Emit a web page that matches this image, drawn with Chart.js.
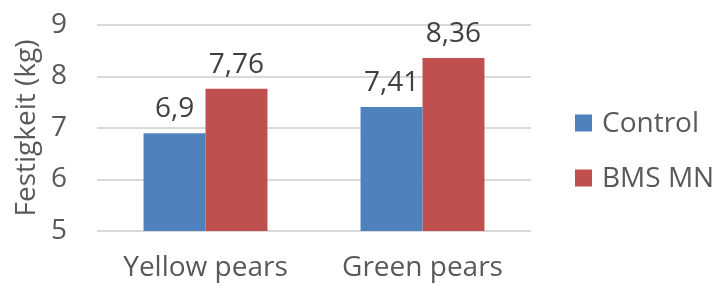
<!DOCTYPE html>
<html>
<head>
<meta charset="utf-8">
<script src="https://cdn.jsdelivr.net/npm/chart.js@4"></script>
<style>
  html, body { margin: 0; padding: 0; background: #fff; }
  #wrap { width: 714px; height: 288px; }
</style>
</head>
<body>
<div id="wrap"><canvas id="myChart" width="714" height="288"></canvas></div>
<script>
// data
const categories = ['Yellow pears', 'Green pears'];
const controlValues = [6.9, 7.41];
const bmsValues = [7.76, 8.36];
const yTicks = [5, 6, 7, 8, 9];

const FONT = '"Open Sans", sans-serif';

// value labels above bars (decimal comma)
const valueLabels = {
  id: 'valueLabels',
  afterDatasetsDraw(chart) {
    const ctx = chart.ctx;
    ctx.save();
    ctx.font = '28px ' + FONT;
    ctx.fillStyle = '#404040';
    ctx.textAlign = 'center';
    ctx.textBaseline = 'alphabetic';
    chart.data.datasets.forEach((ds, i) => {
      chart.getDatasetMeta(i).data.forEach((bar, j) => {
        ctx.fillText(String(ds.data[j]).replace('.', ','), bar.x, bar.y - 16);
      });
    });
    ctx.restore();
  }
};

// legend on the right, drawn by hand so it sits where the original has it
const sideLegend = {
  id: 'sideLegend',
  afterDraw(chart) {
    const ctx = chart.ctx;
    ctx.save();
    ctx.font = '28px ' + FONT;
    ctx.fillStyle = '#595959';
    ctx.textBaseline = 'middle';
    chart.data.datasets.forEach((ds, i) => {
      const y = 123 + i * 55;
      ctx.fillStyle = ds.backgroundColor;
      ctx.fillRect(575, y - 8.5, 17, 17);
      ctx.fillStyle = '#595959';
      ctx.fillText(ds.label, 602, y + 1);
    });
    ctx.restore();
  }
};

var ctx = document.getElementById('myChart').getContext('2d');
var myChart = new Chart(ctx, {
  type: 'bar',
  data: {
    labels: categories,
    datasets: [{
        label: 'Control',
        data: controlValues,
        backgroundColor: '#4f81bd',
        borderWidth: 0,
        categoryPercentage: 0.571,
        barPercentage: 1,
      },
      {
        label: 'BMS MN',
        data: bmsValues,
        backgroundColor: '#c0504d',
        borderWidth: 0,
        categoryPercentage: 0.571,
        barPercentage: 1,
      },
    ]
  },
  plugins: [valueLabels, sideLegend],
  options: {
    responsive: false,
    animation: false,
    layout: { padding: { top: 25, right: 183, bottom: 0, left: 0 } },
    plugins: {
      tooltip: { enabled: false },
      legend: { display: false },
    },
    scales: {
      x: {
        afterFit: axis => { axis.height = 57; },
        grid: { display: false, drawTicks: false },
        border: { display: false },
        ticks: { color: '#595959', padding: 20, font: { family: FONT, size: 28 } },
      },
      y: {
        min: 5,
        max: 9,
        afterBuildTicks: axis => { axis.ticks = yTicks.map(v => ({ value: v })); },
        afterFit: axis => { axis.width = 97; axis.paddingTop = 0; axis.paddingBottom = 0; },
        grid: { color: '#d9d9d9', lineWidth: 2, drawTicks: false },
        border: { display: false },
        ticks: { color: '#595959', padding: 30, font: { family: FONT, size: 28 } },
        title: {
          display: true,
          text: 'Festigkeit (kg)',
          color: '#595959',
          padding: { top: 10, bottom: 0 },
          font: { family: FONT, size: 28 },
        },
      },
    }
  }
});
</script>
</body>
</html>
